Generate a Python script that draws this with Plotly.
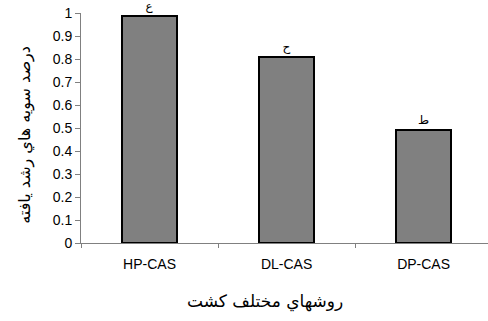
import plotly.graph_objects as go

categories = ["HP-CAS", "DL-CAS", "DP-CAS"]
values = [0.985, 0.81, 0.49]
letters = ["ع", "ح", "ط"]
y_title = "درصد سويه هاي رشد يافته"
x_title = "روشهاي مختلف كشت"

fig = go.Figure()
fig.add_trace(go.Bar(
    x=categories, y=values, width=0.4,
    marker=dict(color="#808080", line=dict(color="black", width=2)),
    text=letters, textposition="outside", cliponaxis=False,
    textfont=dict(family="DejaVu Sans", size=12, color="black"),
))

fig.update_layout(
    width=488, height=321,
    margin=dict(l=81, r=0, t=13, b=78, autoexpand=False),
    plot_bgcolor="white", paper_bgcolor="white",
    showlegend=False,
    font=dict(family="Liberation Sans, Arial", size=12, color="black"),
    bargap=0,
)
fig.update_xaxes(
    range=[-0.5, 2.47], showline=True, linecolor="#808080", linewidth=1,
    ticks="outside", tickson="boundaries", ticklen=4, tickcolor="#808080",
    ticklabelstandoff=8, showgrid=False, zeroline=False, automargin=False,
    tickfont=dict(size=14),
)
fig.update_yaxes(
    range=[0, 1], dtick=0.1, tickformat="~g", showline=True, linecolor="#808080", linewidth=1,
    ticks="outside", ticklen=5, tickcolor="#808080", showgrid=False, zeroline=False,
    automargin=False, ticklabeloverflow="allow", tickfont=dict(size=14),
)
fig.add_annotation(text=y_title, xref="paper", yref="paper", x=-0.138, y=0.47,
                   showarrow=False, textangle=-90, font=dict(family="DejaVu Sans", size=16),
                   xanchor="center", yanchor="middle")
fig.add_annotation(text=x_title, xref="paper", yref="paper", x=0.452, y=-0.2,
                   showarrow=False, font=dict(family="DejaVu Sans", size=17),
                   xanchor="center", yanchor="top")
fig.write_html("out.html", config={"displayModeBar": False},
               post_script="document.body.style.margin='0';")
